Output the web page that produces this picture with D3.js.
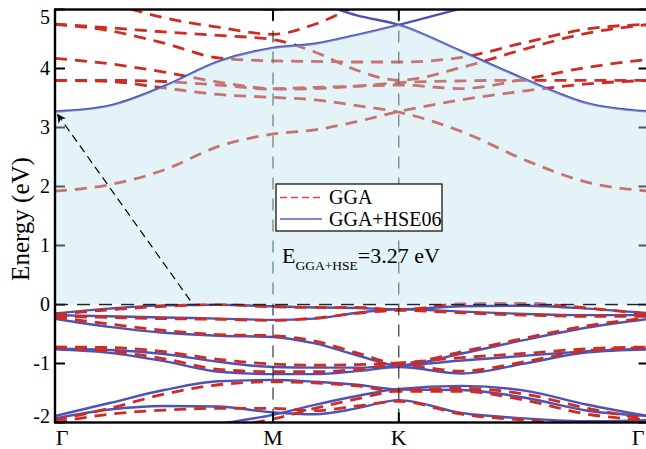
<!DOCTYPE html>
<html>
<head>
<meta charset="utf-8">
<script src="https://cdn.jsdelivr.net/npm/d3@7"></script>
<style>
  body { margin: 0; background: #fff; }
  text { font-family: "Liberation Serif", "Times New Roman", serif; }
</style>
</head>
<body>
<script>
// high symmetry path (in units of |Gamma-M|)
const kLabels = ['Γ', 'M', 'K', 'Γ']
const kTicks = [0, 1, 1.577, 2.732]
// k sample points where band energies were read
const kPts = [0, 0.25, 0.5, 0.75, 1, 1.192, 1.385, 1.577, 1.866, 2.155, 2.443, 2.732]
const yTicks = [-2, -1, 0, 1, 2, 3, 4, 5]

// GGA+HSE06 bands (eV)
const hseCondA = [3.27, 3.37, 3.70, 4.12, 4.35, 4.42, 4.57, 4.74, 5.02, 5.30, 5.50, 5.60]
const hseCondB = [5.90, 5.80, 5.60, 5.40, 5.22, 5.12, 4.90, 4.74, 4.29, 3.82, 3.41, 3.27]
const hseCondC = [6.00, 5.70, 5.40, 5.12, 4.995, 5.10, 5.30, 5.50, 5.70, 5.90, 6.00, 6.00]
const hseVal1 = [-0.15, -0.07, -0.015, -0.005, -0.03, -0.05, -0.06, -0.08, -0.03, -0.02, -0.07, -0.15]
const hseVal2 = [-0.18, -0.20, -0.22, -0.24, -0.26, -0.24, -0.14, -0.08, -0.12, -0.16, -0.18, -0.18]
const hseVal3 = [-0.24, -0.38, -0.48, -0.53, -0.55, -0.66, -0.86, -1.03, -0.83, -0.60, -0.39, -0.24]
const hseVal4 = [-0.75, -0.77, -0.84, -0.97, -1.06, -1.07, -1.07, -1.04, -0.95, -0.87, -0.79, -0.75]
const hseVal5 = [-0.76, -0.82, -0.96, -1.14, -1.18, -1.18, -1.13, -1.06, -1.17, -1.00, -0.81, -0.76]
const hseVal6 = [-1.89, -1.67, -1.45, -1.30, -1.28, -1.31, -1.36, -1.44, -1.45, -1.58, -1.80, -1.89]
const hseVal7 = [-1.93, -1.78, -1.72, -1.73, -1.83, -1.86, -1.76, -1.62, -1.84, -1.93, -1.98, -1.96]
const hseVal8 = [-2.40, -2.35, -2.22, -2.03, -1.87, -1.70, -1.55, -1.43, -1.38, -1.46, -1.70, -1.90]

// GGA bands (eV)
const ggaCond1 = [1.92, 2.03, 2.28, 2.68, 2.89, 2.96, 3.10, 3.27, 3.47, 3.62, 3.74, 3.80]
const ggaCond2 = [3.80, 3.78, 3.67, 3.56, 3.51, 3.47, 3.37, 3.26, 2.93, 2.45, 2.07, 1.92]
const ggaCond3 = [3.80, 3.80, 3.78, 3.72, 3.65, 3.66, 3.70, 3.76, 3.79, 3.80, 3.80, 3.80]
const ggaCond4 = [4.17, 4.08, 3.94, 3.77, 3.66, 3.68, 3.70, 3.72, 3.66, 3.82, 4.02, 4.16]
const ggaCond5 = [4.75, 4.64, 4.43, 4.18, 4.13, 4.12, 4.11, 4.11, 4.19, 4.44, 4.67, 4.75]
const ggaCond6 = [4.75, 4.69, 4.62, 4.56, 4.49, 4.28, 3.97, 3.80, 4.02, 4.33, 4.60, 4.75]
const ggaCond7 = [5.45, 5.12, 4.86, 4.70, 4.58, 4.75, 5.06, 5.35, 5.60, 5.70, 5.70, 5.70]
const ggaVal1 = [-0.17, -0.09, -0.03, 0.00, -0.04, -0.05, -0.05, -0.09, 0.01, 0.02, -0.06, -0.17]
const ggaVal2 = [-0.20, -0.22, -0.24, -0.25, -0.27, -0.23, -0.15, -0.10, -0.14, -0.18, -0.20, -0.20]
const ggaVal3 = [-0.22, -0.33, -0.44, -0.51, -0.53, -0.62, -0.82, -1.00, -0.80, -0.57, -0.36, -0.22]
const ggaVal4 = [-0.72, -0.73, -0.80, -0.93, -1.01, -1.03, -1.02, -0.99, -0.90, -0.83, -0.75, -0.72]
const ggaVal5 = [-0.73, -0.79, -0.92, -1.10, -1.14, -1.14, -1.10, -1.02, -1.13, -0.97, -0.78, -0.73]
const ggaVal6 = [-1.96, -1.76, -1.52, -1.36, -1.31, -1.33, -1.38, -1.47, -1.47, -1.62, -1.86, -1.96]
const ggaVal7 = [-2.00, -1.86, -1.79, -1.76, -1.76, -1.80, -1.72, -1.64, -1.86, -1.96, -2.03, -2.00]
const ggaVal8 = [-2.45, -2.40, -2.30, -2.10, -1.94, -1.76, -1.60, -1.46, -1.42, -1.52, -1.76, -1.95]

const hseBands = [hseVal1, hseVal2, hseVal3, hseVal4, hseVal5, hseVal6, hseVal7, hseVal8, hseCondC]
const ggaBands = [ggaCond1, ggaCond2, ggaCond3, ggaCond4, ggaCond5, ggaCond6, ggaCond7,
                  ggaVal1, ggaVal2, ggaVal3, ggaVal4, ggaVal5, ggaVal6, ggaVal7, ggaVal8]

// gap annotation: from VBM (k, E) to CBM (k, E)
const gapFrom = [0.62, 0.07]
const gapTo = [0.012, 3.22]

const W = 646, H = 449
const red = '#cf2b22', blue = '#4f52b5'
const serif = "'Liberation Serif', 'Times New Roman', Times, serif"

const svg = d3.select('body').append('svg')
    .attr('width', W)
    .attr('height', H)
    .attr('font-family', serif)

const x = d3.scaleLinear().domain([0, 2.732]).range([55, 650.6])
const y = d3.scaleLinear().domain([-2, 5]).range([422.5, 9.5])

const defs = svg.append('defs')
defs.append('clipPath').attr('id', 'plot')
    .append('rect')
    .attr('x', x(0)).attr('y', y(5))
    .attr('width', x(2.732) - x(0)).attr('height', y(-2) - y(5))

const line = d3.line()
    .x((d, i) => x(kPts[i]))
    .y(d => y(d))
    .curve(d3.curveMonotoneX)

const gapArea = d3.area()
    .x((d, i) => x(kPts[i]))
    .y0(y(0))
    .y1(d => y(d))
    .curve(d3.curveMonotoneX)

defs.append('clipPath').attr('id', 'underB')
    .append('path').attr('d', gapArea(hseCondB))

const plot = svg.append('g').attr('clip-path', 'url(#plot)')

// HSE bands (solid)
plot.selectAll('path.hse')
    .data(hseBands)
    .join('path')
    .attr('class', 'hse')
    .attr('d', line)
    .attr('fill', 'none')
    .attr('stroke', blue)
    .attr('stroke-width', 2.4)

// GGA bands (dashed)
plot.selectAll('path.gga')
    .data(ggaBands)
    .join('path')
    .attr('class', 'gga')
    .attr('d', line)
    .attr('fill', 'none')
    .attr('stroke', red)
    .attr('stroke-width', 2.8)
    .attr('stroke-dasharray', '12,8')

// vertical lines at M and K
plot.selectAll('line.sym')
    .data(kTicks.slice(1, 3))
    .join('line')
    .attr('class', 'sym')
    .attr('x1', d => x(d)).attr('x2', d => x(d))
    .attr('y1', y(5)).attr('y2', y(-2))
    .attr('stroke', '#222')
    .attr('stroke-width', 1.1)
    .attr('stroke-dasharray', '12,9')

// Fermi level
plot.append('line')
    .attr('x1', x(0)).attr('x2', x(2.732))
    .attr('y1', y(0)).attr('y2', y(0))
    .attr('stroke', '#111')
    .attr('stroke-width', 1.6)
    .attr('stroke-dasharray', '13,9')

// ticks
const ticks = svg.append('g')
ticks.selectAll('line.yl')
    .data(yTicks)
    .join('line')
    .attr('x1', x(0)).attr('x2', x(0) + 10)
    .attr('y1', d => y(d)).attr('y2', d => y(d))
    .attr('stroke', '#000').attr('stroke-width', 2)
ticks.selectAll('line.yr')
    .data(yTicks)
    .join('line')
    .attr('x1', x(2.732)).attr('x2', x(2.732) - 12)
    .attr('y1', d => y(d)).attr('y2', d => y(d))
    .attr('stroke', '#000').attr('stroke-width', 2)
ticks.selectAll('line.xt')
    .data(kTicks.slice(1, 3))
    .join('line')
    .attr('x1', d => x(d)).attr('x2', d => x(d))
    .attr('y1', y(5)).attr('y2', y(5) + 11)
    .attr('stroke', '#000').attr('stroke-width', 2)
ticks.selectAll('line.xb')
    .data(kTicks.slice(1, 3))
    .join('line')
    .attr('x1', d => x(d)).attr('x2', d => x(d))
    .attr('y1', y(-2)).attr('y2', y(-2) - 10)
    .attr('stroke', '#000').attr('stroke-width', 2)

// shaded gap (between Fermi level and HSE conduction band), drawn translucent on top
svg.append('g').attr('clip-path', 'url(#plot)')
  .append('g').attr('clip-path', 'url(#underB)')
  .append('path')
    .attr('d', gapArea(hseCondA))
    .attr('fill', 'rgb(188,225,235)')
    .attr('fill-opacity', 0.4)

// the lowest HSE conduction bands on top of the shading
plot.selectAll('path.hsec')
    .data([hseCondA, hseCondB])
    .join('path')
    .attr('class', 'hsec')
    .attr('d', line)
    .attr('fill', 'none')
    .attr('stroke', blue)
    .attr('stroke-width', 2.4)

// frame
svg.append('rect')
    .attr('x', x(0)).attr('y', y(5))
    .attr('width', x(2.732) - x(0)).attr('height', y(-2) - y(5))
    .attr('fill', 'none')
    .attr('stroke', '#000')
    .attr('stroke-width', 2.4)

// tick labels (top and bottom ones nudged inside like the original)
const yLabelBase = d => d === 5 ? 23.5 : (d === -2 ? 423 : y(d) + 6.5)
svg.selectAll('text.yl')
    .data(yTicks)
    .join('text')
    .attr('x', 50)
    .attr('y', yLabelBase)
    .attr('text-anchor', 'end')
    .attr('font-size', 20)
    .text(d => d)

const kLabelX = [62, x(1), x(1.577), 638]
svg.selectAll('text.xl')
    .data(kLabels)
    .join('text')
    .attr('x', (d, i) => kLabelX[i])
    .attr('y', 445)
    .attr('text-anchor', 'middle')
    .attr('font-size', 22)
    .text(d => d)

svg.append('text')
    .attr('transform', 'translate(28.5,219) rotate(-90)')
    .attr('text-anchor', 'middle')
    .attr('font-size', 25)
    .text('Energy (eV)')

// gap arrow
defs.append('marker')
    .attr('id', 'arrow')
    .attr('viewBox', '0 0 10 10')
    .attr('refX', 9).attr('refY', 5)
    .attr('markerWidth', 9).attr('markerHeight', 9)
    .attr('markerUnits', 'userSpaceOnUse')
    .attr('orient', 'auto')
  .append('path')
    .attr('d', 'M0,0 L10,5 L0,10 L3,5 Z')
    .attr('fill', '#000')

svg.append('line')
    .attr('x1', x(gapFrom[0])).attr('y1', y(gapFrom[1]))
    .attr('x2', x(gapTo[0])).attr('y2', y(gapTo[1]))
    .attr('stroke', '#000')
    .attr('stroke-width', 1.2)
    .attr('stroke-dasharray', '8,5')
    .attr('marker-end', 'url(#arrow)')

// legend
const lg = svg.append('g')
lg.append('rect')
    .attr('x', 276).attr('y', 184).attr('width', 166).attr('height', 47)
    .attr('fill', '#fff').attr('stroke', '#000').attr('stroke-width', 1.2)
lg.append('line')
    .attr('x1', 280).attr('x2', 322).attr('y1', 197.5).attr('y2', 197.5)
    .attr('stroke', '#e0463c').attr('stroke-width', 1.3).attr('stroke-dasharray', '7,4')
lg.append('line')
    .attr('x1', 280).attr('x2', 322).attr('y1', 219).attr('y2', 219)
    .attr('stroke', '#5a5dbb').attr('stroke-width', 1.3)
lg.append('text').attr('x', 329).attr('y', 204).attr('font-size', 20).text('GGA')
lg.append('text').attr('x', 329).attr('y', 226).attr('font-size', 20).text('GGA+HSE06')

// gap value
const gt = svg.append('text').attr('x', 282).attr('y', 263).attr('font-size', 22)
gt.append('tspan').text('E')
gt.append('tspan').attr('font-size', 13.5).attr('dy', 7).text('GGA+HSE')
gt.append('tspan').attr('dy', -7).text('=3.27 eV')
</script>
</body>
</html>
